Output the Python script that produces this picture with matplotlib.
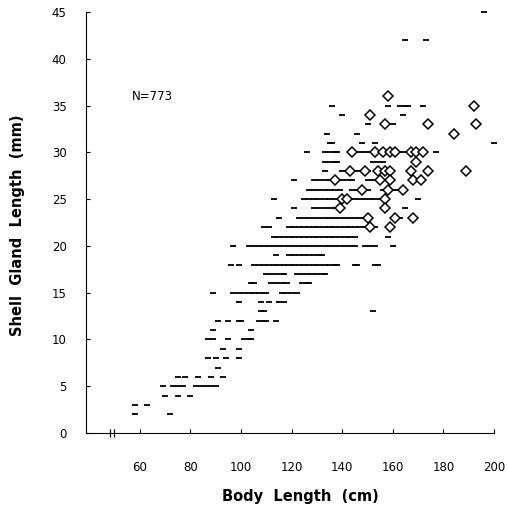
import matplotlib
matplotlib.use('Agg')
import matplotlib.pyplot as plt

# niveles de longitud de glandula (mm), una fila de guiones por nivel
dash_levels = [2, 3, 4, 5, 6, 7, 8, 9, 10, 11, 12, 13, 14, 15, 16, 17, 18, 19,
               20, 21, 22, 23, 24, 25, 26, 27, 28, 29, 30, 31, 32, 33, 34, 35, 42, 45]

# longitud corporal (cm) de cada guion, fila por fila
dash_x = [
    [58, 72],
    [58, 63],
    [70, 75, 80],
    [69, 73, 75, 77, 82, 84, 86, 88, 90],
    [75, 78, 83, 88, 93],
    [91],
    [87, 90, 94, 99],
    [93, 99],
    [87, 89, 95, 101, 103, 104],
    [89, 104],
    [91, 95, 99, 100, 107, 109, 110, 114],
    [108, 109, 152],
    [99, 108, 111, 115, 117],
    [89, 97, 99, 101, 103, 105, 107, 109, 110, 116, 118, 120, 122],
    [104, 105, 112, 114, 116, 118, 124, 126, 127],
    [110, 112, 114, 116, 117, 122, 124, 126, 128, 130, 132, 133],
    [96, 99, 105, 107, 109, 111, 113, 115, 117, 119, 121, 123, 125, 127, 129,
     131, 133, 135, 137, 138, 145, 146, 153, 154],
    [114, 119, 121, 123, 125, 127, 129, 131, 132],
    [97, 103, 105, 107, 109, 111, 113, 115, 117, 119, 121, 123, 125, 127, 129,
     131, 133, 135, 137, 139, 141, 143, 145, 149, 151, 153, 160],
    [113, 115, 117, 119, 121, 123, 125, 127, 129, 131, 133, 135, 137, 139, 141,
     143, 145, 158],
    [109, 111, 119, 121, 123, 125, 127, 129, 131, 133, 135, 137, 139, 141, 143,
     145, 147, 149, 151, 153],
    [115, 123, 125, 127, 129, 131, 133, 135, 137, 139, 141, 143, 145, 147, 149,
     160, 162, 163],
    [121, 129, 131, 133, 135, 137, 138, 156, 165],
    [113, 125, 127, 129, 131, 133, 135, 137, 139, 141, 143, 145, 147, 149, 151,
     153, 155, 156, 170],
    [127, 129, 131, 133, 135, 137, 139, 144, 146, 148, 150, 156, 158, 160, 162, 163],
    [121, 129, 131, 133, 135, 136, 140, 142, 144, 150, 152, 154],
    [133, 140, 142, 144, 146, 148, 150, 155],
    [133, 135, 137, 138, 152, 154, 156],
    [126, 133, 135, 137, 138, 143, 145, 147, 149, 151, 153, 155, 157, 159, 161,
     163, 165, 167, 169, 171, 177],
    [135, 136, 148, 153, 200],
    [134, 146],
    [150, 160],
    [140, 164],
    [136, 158, 163, 165, 166, 172],
    [165, 173],
    [196],
]

# rombos (puntos destacados)
diamond_x = [158, 151, 192, 157, 174, 193, 184,
             144, 153, 156, 159, 161, 167, 169, 172,
             169,
             143, 149, 154, 157, 159, 167, 174, 189,
             137, 155, 159, 168, 171,
             148, 158, 164,
             140, 142, 157,
             139, 157,
             150, 161, 168,
             151, 159]
diamond_y = [36, 34, 35, 33, 33, 33, 32,
             30, 30, 30, 30, 30, 30, 30, 30,
             29,
             28, 28, 28, 28, 28, 28, 28, 28,
             27, 27, 27, 27, 27,
             26, 26, 26,
             25, 25, 25,
             24, 24,
             23, 23, 23,
             22, 22]

x_ticks = [60, 80, 100, 120, 140, 160, 180, 200]
y_ticks = [0, 5, 10, 15, 20, 25, 30, 35, 40, 45]

W, H = 509, 516
fig = plt.figure(figsize=(W / 100, H / 100), dpi=100)
ax = fig.add_axes([86 / W, 83 / H, (494 - 86) / W, (504 - 83) / H])

for nivel, xs in zip(dash_levels, dash_x):
    ax.plot(xs, [nivel] * len(xs), linestyle='none', marker='_',
            markersize=5, markeredgewidth=1.3, color='black', clip_on=False)

ax.plot(diamond_x, diamond_y, linestyle='none', marker='D', markersize=5,
        markerfacecolor='white', markeredgecolor='black', markeredgewidth=1.1,
        zorder=3, clip_on=False)

ax.text(57, 36, 'N=773', fontsize=8.5, va='center', ha='left')

ax.set_xlim(38.7, 200)
ax.set_ylim(0, 45)
ax.set_xticks(x_ticks)
ax.set_yticks(y_ticks)
ax.tick_params(axis='x', direction='in', length=3, width=0.8, pad=20, labelsize=8.5)
ax.tick_params(axis='y', direction='in', length=3, width=0.8, pad=14, labelsize=8.5)

for lado in ['top', 'right']:
    ax.spines[lado].set_visible(False)
for lado in ['left', 'bottom']:
    ax.spines[lado].set_linewidth(0.8)

# corte del eje x
ax.vlines([48.1, 49.6], -0.45, 0.45, color='black', linewidth=0.9, clip_on=False)

fig.text(18 / W, 1 - 225 / H, 'Shell  Gland  Length  (mm)', rotation=90,
         fontsize=10.5, fontweight='bold', ha='center', va='center')
fig.text(300 / W, 1 - 497 / H, 'Body  Length  (cm)', fontsize=10.5,
         fontweight='bold', ha='center', va='center')

fig.savefig('out.png', dpi=100)
plt.close()
